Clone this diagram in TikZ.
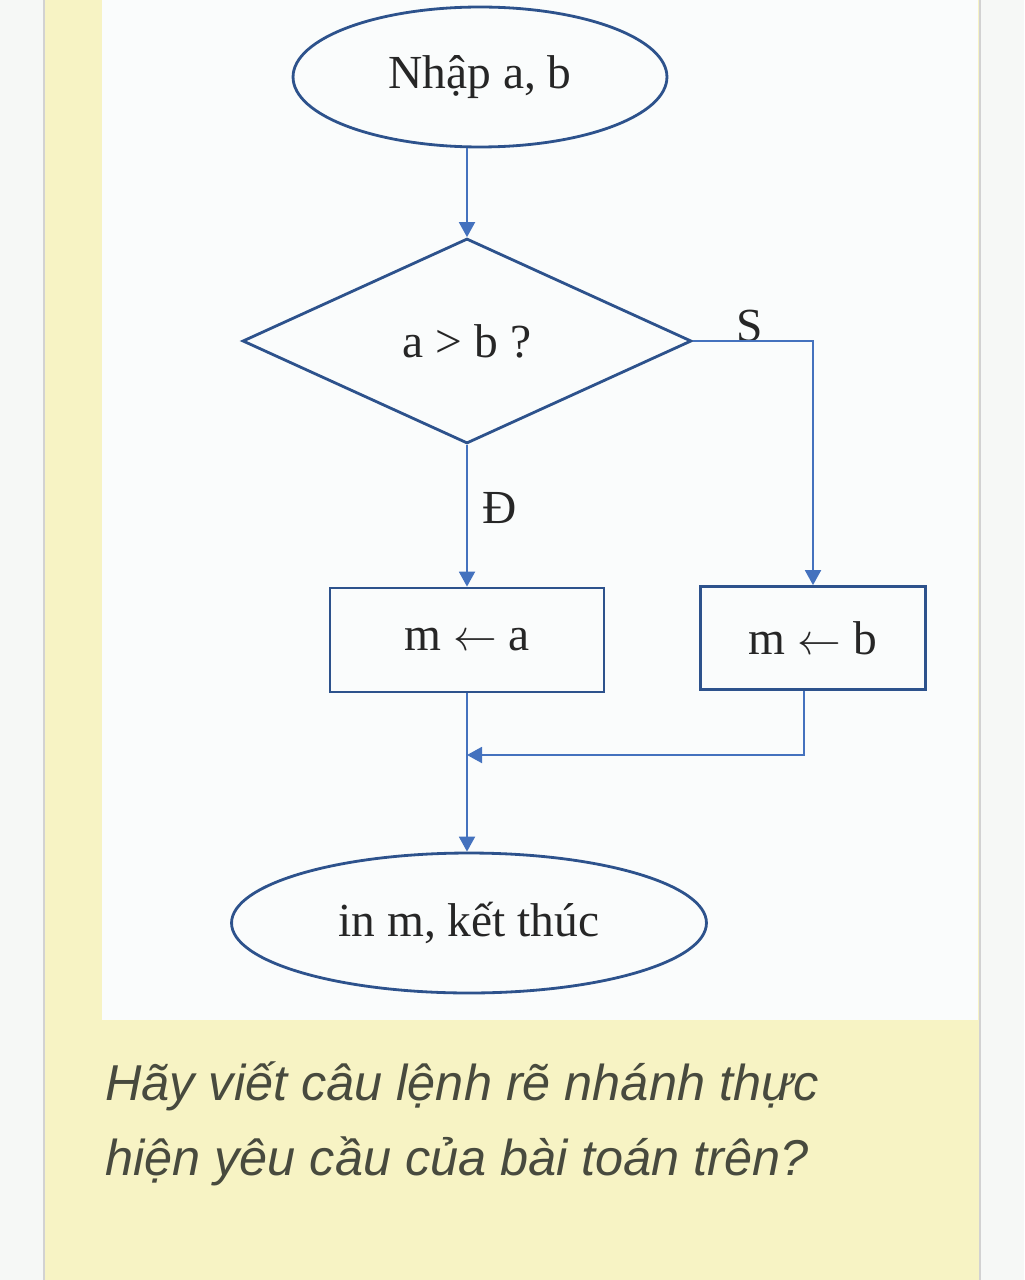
\documentclass[tikz,border=0pt]{standalone}
\usepackage{fontspec}
\setmainfont{Liberation Serif}
\newfontfamily\questfont{Liberation Sans}
\usetikzlibrary{shapes.geometric,arrows.meta}
\definecolor{shapeblue}{RGB}{45,82,140}
\definecolor{lineblue}{RGB}{68,114,190}
\definecolor{paleyellow}{RGB}{247,243,196}
\definecolor{panelwhite}{RGB}{250,252,252}
\definecolor{pagewhite}{RGB}{246,248,246}
\definecolor{textgray}{RGB}{72,74,62}
\tikzset{
  term/.style={ellipse,draw=shapeblue,line width=1.6pt,inner sep=0pt},
  decision/.style={diamond,draw=shapeblue,line width=1.6pt,inner sep=0pt},
  assign/.style={rectangle,draw=shapeblue,line width=1.6pt,inner sep=0pt},
  flow/.style={draw=lineblue,line width=1.1pt,-{Triangle[width=0.32cm,length=0.3cm]}},
  quest/.style={anchor=base west,inner sep=0pt,text=textgray,font=\questfont\itshape\fontsize{28.7}{34}\selectfont},
}
\begin{document}
\begin{tikzpicture}[x=0.02cm,y=-0.02cm,font=\fontsize{27}{32}\selectfont,text=black!85]
    \useasboundingbox (0,0) rectangle (1024,1280);
    % page and panel
    \fill[pagewhite] (0,0) rectangle (1024,1280);
    \fill[paleyellow] (45,0) rectangle (980,1280);
    \draw[gray!35,line width=1.4pt] (44,0) -- (44,1280) (980,0) -- (980,1280);
    \fill[panelwhite] (102,0) rectangle (978,1020);

    \node[term,minimum width=7.48cm,minimum height=2.8cm] (start) at (480,77) {Nhập a, b};
    \node[decision,minimum width=8.98cm,minimum height=4.1cm] (dec) at (467,341) {a > b ?};
    \node[assign,minimum width=5.48cm,minimum height=2.08cm] (ma) at (467,640) {m $\leftarrow$ a};
    \node[assign,minimum width=4.5cm,minimum height=2.06cm] (mb) at (813,638) {m $\leftarrow$ b};
    \node[term,minimum width=9.5cm,minimum height=2.8cm] (stop) at (469,923) {in m, kết thúc};
    \node (yes) at (500,508) {Đ};
    \node (no) at (750,326) {S};
    \coordinate (join) at (467,755);

    \draw[flow] (dec.north |- start.south) -- (dec.north);
    \draw[flow] (dec.south) -- (dec.south |- ma.north);
    \draw[flow] (dec.east) -| (mb.north);
    \draw[flow] (ma.south) -- (ma.south |- stop.north);
    \draw[flow] ([xshift=-0.18cm]mb.south) |- (join);

    % question
    \node[quest] (q1) at (105,1100) {Hãy viết câu lệnh rẽ nhánh thực};
    \node[quest] (q2) at (105,1175) {hiện yêu cầu của bài toán trên?};
\end{tikzpicture}
\end{document}
